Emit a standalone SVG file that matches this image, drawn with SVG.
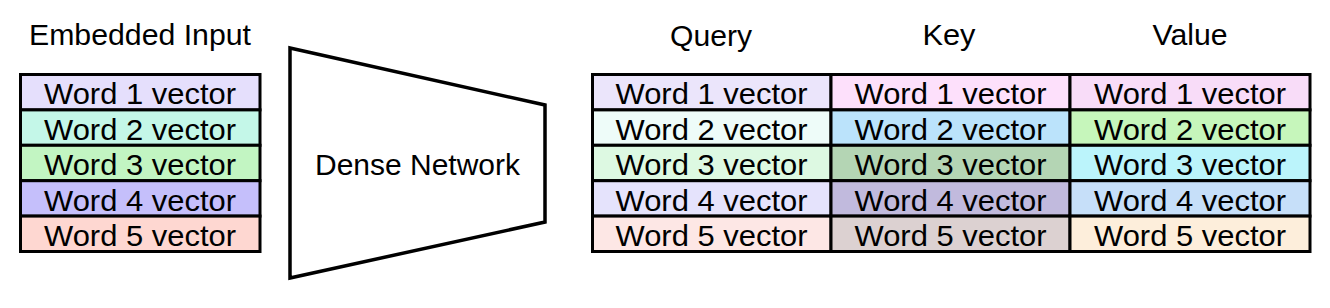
<svg xmlns="http://www.w3.org/2000/svg" width="1330" height="308" viewBox="0 0 1330 308">
<style>
.cell{stroke:#000;stroke-width:3}
.t{font-family:"Liberation Sans",Arial,sans-serif;font-size:29px;fill:#000;text-anchor:middle}
.frame{fill:none;stroke:#000;stroke-width:3.5}
</style>
<rect width="1330" height="308" fill="#fff"/>
<g id="embedded-input">
<text class="t" x="140" y="45" textLength="222" lengthAdjust="spacingAndGlyphs">Embedded Input</text>
<rect class="cell" x="20.5" y="74.5" width="239.5" height="35.4" fill="#e5dffc"/>
<rect class="cell" x="20.5" y="109.9" width="239.5" height="35.4" fill="#c4f7e8"/>
<rect class="cell" x="20.5" y="145.3" width="239.5" height="35.4" fill="#c2f5c2"/>
<rect class="cell" x="20.5" y="180.7" width="239.5" height="35.4" fill="#c5bffb"/>
<rect class="cell" x="20.5" y="216.1" width="239.5" height="35.4" fill="#fed7d1"/>
<text class="t" x="140" y="104.3" textLength="192" lengthAdjust="spacingAndGlyphs">Word 1 vector</text>
<text class="t" x="140" y="139.7" textLength="192" lengthAdjust="spacingAndGlyphs">Word 2 vector</text>
<text class="t" x="140" y="175.1" textLength="192" lengthAdjust="spacingAndGlyphs">Word 3 vector</text>
<text class="t" x="140" y="210.5" textLength="192" lengthAdjust="spacingAndGlyphs">Word 4 vector</text>
<text class="t" x="140" y="245.9" textLength="192" lengthAdjust="spacingAndGlyphs">Word 5 vector</text>
</g>
<g id="dense-network">
<polygon class="frame" points="290,48 545,105 545,222 290,278" fill="#fff"/>
<text class="t" x="417.5" y="175" textLength="205" lengthAdjust="spacingAndGlyphs">Dense Network</text>
</g>
<g id="query">
<text class="t" x="711" y="46" textLength="82" lengthAdjust="spacingAndGlyphs">Query</text>
<rect class="cell" x="592.5" y="74.5" width="238.5" height="35.4" fill="#ebe5fb"/>
<rect class="cell" x="592.5" y="109.9" width="238.5" height="35.4" fill="#eefcf9"/>
<rect class="cell" x="592.5" y="145.3" width="238.5" height="35.4" fill="#ddf9e2"/>
<rect class="cell" x="592.5" y="180.7" width="238.5" height="35.4" fill="#e5e3fc"/>
<rect class="cell" x="592.5" y="216.1" width="238.5" height="35.4" fill="#fde7e5"/>
<text class="t" x="711.5" y="104.3" textLength="192" lengthAdjust="spacingAndGlyphs">Word 1 vector</text>
<text class="t" x="711.5" y="139.7" textLength="192" lengthAdjust="spacingAndGlyphs">Word 2 vector</text>
<text class="t" x="711.5" y="175.1" textLength="192" lengthAdjust="spacingAndGlyphs">Word 3 vector</text>
<text class="t" x="711.5" y="210.5" textLength="192" lengthAdjust="spacingAndGlyphs">Word 4 vector</text>
<text class="t" x="711.5" y="245.9" textLength="192" lengthAdjust="spacingAndGlyphs">Word 5 vector</text>
</g>
<g id="key">
<text class="t" x="949" y="45" textLength="53" lengthAdjust="spacingAndGlyphs">Key</text>
<rect class="cell" x="831" y="74.5" width="239" height="35.4" fill="#fde0fb"/>
<rect class="cell" x="831" y="109.9" width="239" height="35.4" fill="#bbe3fb"/>
<rect class="cell" x="831" y="145.3" width="239" height="35.4" fill="#b4d5b4"/>
<rect class="cell" x="831" y="180.7" width="239" height="35.4" fill="#c1badd"/>
<rect class="cell" x="831" y="216.1" width="239" height="35.4" fill="#dcd1d1"/>
<text class="t" x="950.5" y="104.3" textLength="192" lengthAdjust="spacingAndGlyphs">Word 1 vector</text>
<text class="t" x="950.5" y="139.7" textLength="192" lengthAdjust="spacingAndGlyphs">Word 2 vector</text>
<text class="t" x="950.5" y="175.1" textLength="192" lengthAdjust="spacingAndGlyphs">Word 3 vector</text>
<text class="t" x="950.5" y="210.5" textLength="192" lengthAdjust="spacingAndGlyphs">Word 4 vector</text>
<text class="t" x="950.5" y="245.9" textLength="192" lengthAdjust="spacingAndGlyphs">Word 5 vector</text>
</g>
<g id="value">
<text class="t" x="1190" y="45" textLength="75" lengthAdjust="spacingAndGlyphs">Value</text>
<rect class="cell" x="1070" y="74.5" width="240" height="35.4" fill="#f8dcf8"/>
<rect class="cell" x="1070" y="109.9" width="240" height="35.4" fill="#c6f6bb"/>
<rect class="cell" x="1070" y="145.3" width="240" height="35.4" fill="#bbf4fb"/>
<rect class="cell" x="1070" y="180.7" width="240" height="35.4" fill="#c6dff9"/>
<rect class="cell" x="1070" y="216.1" width="240" height="35.4" fill="#fdeedb"/>
<text class="t" x="1190" y="104.3" textLength="192" lengthAdjust="spacingAndGlyphs">Word 1 vector</text>
<text class="t" x="1190" y="139.7" textLength="192" lengthAdjust="spacingAndGlyphs">Word 2 vector</text>
<text class="t" x="1190" y="175.1" textLength="192" lengthAdjust="spacingAndGlyphs">Word 3 vector</text>
<text class="t" x="1190" y="210.5" textLength="192" lengthAdjust="spacingAndGlyphs">Word 4 vector</text>
<text class="t" x="1190" y="245.9" textLength="192" lengthAdjust="spacingAndGlyphs">Word 5 vector</text>
</g>
<g id="connectors"/>
</svg>
